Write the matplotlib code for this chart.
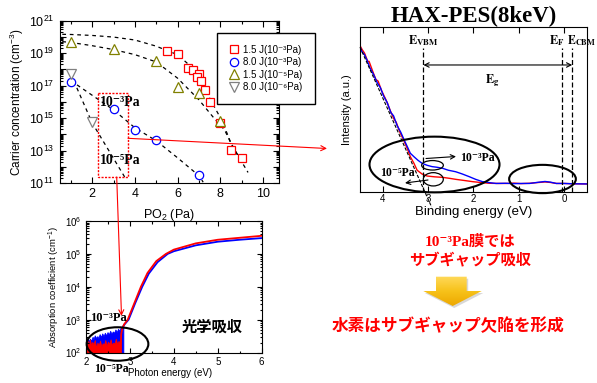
import numpy as np
import matplotlib
matplotlib.use('Agg')
import matplotlib.pyplot as plt
from matplotlib.patches import Ellipse, Rectangle, Polygon
from matplotlib.colors import LinearSegmentedColormap
from matplotlib.ticker import MultipleLocator, LogLocator, NullFormatter, FuncFormatter

plt.rcParams['font.family'] = ['Liberation Sans', 'DejaVu Sans']
plt.rcParams['mathtext.fontset'] = 'custom'
plt.rcParams['mathtext.rm'] = 'Liberation Sans'
plt.rcParams['mathtext.it'] = 'Liberation Sans:italic'
plt.rcParams['mathtext.bf'] = 'Liberation Sans:bold'

# ---------------- data: carrier concentration vs PO2 ----------------
sq_x = [5.5, 6.0, 6.5, 6.7, 7.0, 6.9, 7.1, 7.3, 7.5, 8.0, 8.5, 9.0]
sq_y = [1.3e19, 9e18, 1.2e18, 9.5e17, 5.4e17, 3.2e17, 2e17, 5.5e16, 1e16, 5.2e14, 1.1e13, 3.6e12]
ci_x = [1, 3, 4, 5, 7]
ci_y = [1.7e17, 3.7e15, 1.9e14, 4.5e13, 3.3e11]
tu_x = [1, 3, 5, 6, 7, 8]
tu_y = [5e19, 1.8e19, 3.1e18, 8e16, 3.7e16, 7e14]
td_x = [1, 2]
td_y = [5.4e17, 5.9e14]
legend_labels = ['1.5 J(10⁻³Pa)', '8.0 J(10⁻³Pa)', '1.5 J(10⁻⁵Pa)', '8.0 J(10⁻⁶Pa)']

fitA_x = [0.6, 1, 2, 3, 4, 5, 5.5, 6, 6.7, 7.0, 7.5, 8.1, 8.5, 9.05, 9.3]
fitA_logy = [20.15, 20.14, 20.08, 19.98, 19.8, 19.42, 19.15, 18.9, 18.08, 17.56, 16.23, 14.78, 13.45, 12.2, 11.65]
fitB_x = [0.6, 1, 2, 3, 4, 5, 6, 7, 7.7, 8.2, 8.5, 8.9]
fitB_logy = [19.7, 19.65, 19.45, 19.21, 18.9, 18.45, 17.45, 16.12, 15.0, 14.27, 13.45, 12.5]
fitC_x = [1, 2, 3, 4, 5, 6, 7, 7.2]
fitC_logy = [17.3, 16.4, 15.5, 14.4, 13.6, 12.55, 11.45, 11.05]
fitD_x = [1, 2, 3.6]
fitD_logy = [17.7, 14.7, 11.2]

# ---------------- data: HAX-PES ----------------
pes_red_x = [4.5, 4.45, 4.4, 4.33, 4.3, 4.22, 4.15, 4.1, 4.02, 3.95, 3.9, 3.83, 3.75, 3.7, 3.62, 3.55,
             3.46, 3.39, 3.31, 3.24, 3.13, 3.02, 2.85, 2.68, 2.5, 2.39, 2.2, 2.02, 1.85, 1.65, 1.45,
             1.28, 1.1, 0.95, 0.76, 0.6, 0.42, 0.3, 0.17, 0.0, -0.2, -0.5]
pes_red_y = [0.885, 0.86, 0.84, 0.79, 0.79, 0.73, 0.68, 0.67, 0.61, 0.57, 0.54, 0.49, 0.44, 0.42, 0.36, 0.32,
             0.263, 0.212, 0.172, 0.13, 0.107, 0.095, 0.09, 0.087, 0.08, 0.075, 0.068, 0.061, 0.056, 0.051, 0.05,
             0.05, 0.052, 0.049, 0.051, 0.055, 0.059, 0.056, 0.05, 0.05, 0.048, 0.047]
pes_blue_x = [4.5, 4.46, 4.4, 4.35, 4.28, 4.2, 4.12, 4.05, 3.98, 3.9, 3.82, 3.76, 3.68, 3.6, 3.52,
              3.46, 3.39, 3.31, 3.22, 3.13, 3.02, 2.91, 2.8, 2.68, 2.55, 2.39, 2.25, 2.09, 1.95, 1.8,
              1.65, 1.5, 1.3, 1.1, 0.9, 0.76, 0.6, 0.42, 0.3, 0.17, 0.0, -0.2, -0.5]
pes_blue_y = [0.88, 0.85, 0.83, 0.8, 0.75, 0.71, 0.66, 0.63, 0.58, 0.54, 0.48, 0.46, 0.4, 0.36, 0.31,
              0.275, 0.233, 0.212, 0.19, 0.172, 0.16, 0.152, 0.148, 0.142, 0.13, 0.121, 0.108, 0.091, 0.075, 0.061,
              0.055, 0.05, 0.051, 0.049, 0.05, 0.05, 0.056, 0.062, 0.058, 0.05, 0.05, 0.048, 0.047]
pes_fit_x = [4.5, 2.92]
pes_fit_y = [0.876, -0.093]
E_VBM, E_F, E_CBM = 3.1, 0.04, -0.18

# ---------------- data: absorption ----------------
bn_x = [2.00, 2.02, 2.04, 2.07, 2.09, 2.12, 2.15, 2.17, 2.20, 2.23, 2.26, 2.28, 2.31, 2.34, 2.37, 2.40,
        2.43, 2.46, 2.49, 2.52, 2.55, 2.58, 2.61, 2.64, 2.67, 2.70, 2.73, 2.76, 2.79, 2.82, 2.85]
bn_logy = [2.38, 2.30, 2.45, 2.33, 2.42, 2.36, 2.48, 2.40, 2.52, 2.44, 2.50, 2.42, 2.56, 2.47, 2.58, 2.50,
           2.60, 2.52, 2.62, 2.55, 2.66, 2.57, 2.64, 2.60, 2.70, 2.62, 2.72, 2.66, 2.76, 2.72, 2.82]
rn_x = [2.00, 2.02, 2.04, 2.06, 2.09, 2.12, 2.14, 2.17, 2.20, 2.23, 2.26, 2.29, 2.32, 2.35, 2.38,
        2.41, 2.44, 2.47, 2.50, 2.53, 2.56, 2.59, 2.62, 2.65, 2.68, 2.71, 2.74, 2.77, 2.79]
rn_logy = [2.30, 2.18, 2.35, 2.22, 2.40, 2.20, 2.32, 2.25, 2.38, 2.15, 2.30, 2.22, 2.36, 2.18, 2.28,
           2.24, 2.38, 2.20, 2.33, 2.26, 2.40, 2.22, 2.30, 2.27, 2.42, 2.25, 2.35, 2.30, 2.38]
abs_red_x = [2.79, 2.80, 2.83, 2.87, 2.95, 3.10, 3.25, 3.40, 3.60, 3.82, 4.00, 4.50, 5.00, 5.50, 6.00]
abs_red_logy = [2.00, 2.55, 2.75, 2.86, 3.00, 3.50, 4.00, 4.42, 4.78, 5.00, 5.13, 5.32, 5.43, 5.49, 5.55]
abs_blue_x = [2.85, 2.88, 2.97, 3.12, 3.28, 3.43, 3.63, 3.86, 4.00, 4.50, 5.00, 5.50, 6.00]
abs_blue_logy = [2.80, 2.86, 3.00, 3.50, 4.00, 4.40, 4.75, 5.00, 5.08, 5.26, 5.37, 5.43, 5.48]

W, H = 597, 383
fig = plt.figure(figsize=(W / 100, H / 100), dpi=100)


def rect(l, t, r, b):
    return [l / W, 1 - b / H, (r - l) / W, (b - t) / H]


SERIF = ['Liberation Serif', 'DejaVu Serif']
CJK = ['Noto Sans CJK JP', 'DejaVu Sans']

# ================= Panel 1 =================
ax1 = fig.add_axes(rect(59.5, 20.5, 279, 183))
ax1.set_yscale('log')
ax1.set_xlim(0.47, 10.75)
ax1.set_ylim(1e11, 1e21)
for fx, fy in [(fitA_x, fitA_logy), (fitB_x, fitB_logy), (fitC_x, fitC_logy), (fitD_x, fitD_logy)]:
    ax1.plot(fx, 10 ** np.array(fy), color='k', ls=(0, (3, 3)), lw=0.9)
h1, = ax1.plot(sq_x, sq_y, 's', mfc='white', mec='red', ms=5.5, mew=0.9, ls='none')
h2, = ax1.plot(ci_x, ci_y, 'o', mfc='white', mec='blue', ms=6, mew=0.9, ls='none')
h3, = ax1.plot(tu_x, tu_y, '^', mfc='white', mec='#808000', ms=6.5, mew=0.9, ls='none')
h4, = ax1.plot(td_x, td_y, 'v', mfc='white', mec='#808080', ms=6.5, mew=0.9, ls='none')
ax1.xaxis.set_major_locator(MultipleLocator(2))
ax1.xaxis.set_minor_locator(MultipleLocator(1))
ax1.yaxis.set_major_locator(LogLocator(base=10, numticks=20))
ax1.yaxis.set_major_formatter(FuncFormatter(
    lambda v, p: (r'$10^{%d}$' % int(round(np.log10(v)))) if int(round(np.log10(v))) % 2 == 1 else ''))
ax1.yaxis.set_minor_locator(LogLocator(base=10, subs=np.arange(2, 10), numticks=20))
ax1.yaxis.set_minor_formatter(NullFormatter())
ax1.tick_params(which='both', direction='in', top=True, right=True, labelsize=9, width=0.8)
ax1.tick_params(which='major', length=4)
ax1.tick_params(which='minor', length=2)
ax1.set_xlabel(r'PO$_2$ (Pa)', fontsize=9, labelpad=5)
ax1.set_ylabel(r'Carrier concentration (cm$^{-3}$)', fontsize=8.5, labelpad=2)
leg = ax1.legend([h1, h2, h3, h4], legend_labels, loc='upper left',
                 bbox_to_anchor=(216.7 / W, 1 - 32.5 / H), bbox_transform=fig.transFigure,
                 frameon=True, fancybox=False, edgecolor='k', framealpha=1, fontsize=7,
                 borderpad=1.25, labelspacing=0.25, handletextpad=0.5, handlelength=1.0,
                 borderaxespad=0)
leg.get_frame().set_linewidth(1.0)
leg.set_zorder(20)

# ================= Panel 2 =================
ax2 = fig.add_axes(rect(360, 26.7, 586.7, 191.7))
ax2.set_xlim(4.5, -0.5)
ax2.set_ylim(0, 1)
ax2.plot(pes_red_x, pes_red_y, color='red', lw=1)
ax2.plot(pes_blue_x, pes_blue_y, color='blue', lw=1)
ax2.plot(pes_fit_x, pes_fit_y, color='k', lw=0.8, ls=(0, (3, 1.5)), clip_on=False)
for ev in (E_VBM, E_F, E_CBM):
    ax2.plot([ev, ev], [0, 0.87], color='k', lw=0.9, ls=(0, (4, 2)))
ax2.annotate('', xy=(E_CBM, 0.768), xytext=(E_VBM, 0.768),
             arrowprops=dict(arrowstyle='<->', color='k', lw=0.8, shrinkA=0, shrinkB=0,
                             mutation_scale=8))
ax2.text(E_VBM, 0.872, r'$\mathbf{E_{VBM}}$', math_fontfamily='stix', fontsize=9,
         ha='center', va='bottom')
ax2.text(0.15, 0.872, r'$\mathbf{E_{F}}$', math_fontfamily='stix', fontsize=9,
         ha='center', va='bottom')
ax2.text(-0.38, 0.872, r'$\mathbf{E_{CBM}}$', math_fontfamily='stix', fontsize=8.5,
         ha='center', va='bottom', clip_on=False)
ax2.text(1.59, 0.675, r'$\mathbf{E_{g}}$', math_fontfamily='stix', fontsize=9,
         ha='center', va='center')
ax2.set_xticks([4, 3, 2, 1, 0])
ax2.set_yticks([])
ax2.tick_params(which='both', direction='in', top=True, labelsize=7, width=0.8, length=4, pad=2)
ax2.set_xlabel('Binding energy (eV)', fontsize=9.5, labelpad=1)
ax2.set_ylabel('Intensity (a.u.)', fontsize=8, labelpad=6)
ax2.set_title('HAX-PES(8keV)', fontsize=16.5, fontweight='bold', family=SERIF, pad=3)

# ================= Panel 3 =================
ax3 = fig.add_axes(rect(86, 221, 261.7, 352.5))
ax3.set_yscale('log')
ax3.set_xlim(2, 6)
ax3.set_ylim(1e2, 1e6)
ax3.fill_between(bn_x, 1e2, 10 ** np.array(bn_logy), color='blue', lw=0.6)
ax3.fill_between(rn_x, 1e2, 10 ** np.array(rn_logy), color='red', lw=0.6)
ax3.plot(abs_blue_x, 10 ** np.array(abs_blue_logy), color='blue', lw=1.3)
ax3.plot(abs_red_x, 10 ** np.array(abs_red_logy), color='red', lw=1.3)
ax3.xaxis.set_major_locator(MultipleLocator(1))
ax3.xaxis.set_minor_locator(MultipleLocator(0.5))
ax3.yaxis.set_major_locator(LogLocator(base=10, numticks=10))
ax3.yaxis.set_minor_locator(LogLocator(base=10, subs=np.arange(2, 10), numticks=10))
ax3.yaxis.set_minor_formatter(NullFormatter())
ax3.tick_params(which='both', direction='in', top=True, right=True, labelsize=7, width=0.8)
ax3.tick_params(which='major', length=3.5)
ax3.tick_params(which='minor', length=1.8)
ax3.set_xlabel('Photon energy (eV)', fontsize=7, labelpad=1)
ax3.xaxis.set_label_coords(0.48, -0.115)
ax3.set_ylabel(r'Absorption coefficient (cm$^{-1}$)', fontsize=6.8, labelpad=2)

# ================= Overlay (figure-pixel annotations) =================
ov = fig.add_axes([0, 0, 1, 1], zorder=10)
ov.set_xlim(0, W)
ov.set_ylim(H, 0)
ov.axis('off')
ov.patch.set_alpha(0)

ov.add_patch(Rectangle((98.3, 93), 29.7, 83.7, fill=False, ec='red', lw=1, ls=(0, (1.5, 1))))
ov.text(100, 103, '10⁻³Pa', family=SERIF, fontweight='bold', fontsize=10, ha='left', va='center')
ov.text(100, 161, '10⁻⁵Pa', family=SERIF, fontweight='bold', fontsize=10, ha='left', va='center')
ov.annotate('', xy=(327, 148.5), xytext=(128, 138.3),
            arrowprops=dict(arrowstyle='->', color='red', lw=0.8, shrinkA=0, shrinkB=0, mutation_scale=9))
ov.annotate('', xy=(121.5, 316), xytext=(116.7, 177),
            arrowprops=dict(arrowstyle='->', color='red', lw=0.8, shrinkA=0, shrinkB=0, mutation_scale=9))

# panel 2 annotations
ov.add_patch(Ellipse((434.5, 164.5), 130, 55.7, fill=False, ec='k', lw=1.5))
ov.add_patch(Ellipse((542.5, 179), 66.7, 28.3, fill=False, ec='k', lw=1.5))
ov.add_patch(Ellipse((432.5, 165.3), 21.7, 9.5, fill=False, ec='k', lw=0.9))
ov.add_patch(Ellipse((433.3, 179.3), 20, 13.3, fill=False, ec='k', lw=0.9))
ov.annotate('', xy=(456, 156.5), xytext=(426, 158.5),
            arrowprops=dict(arrowstyle='->', color='k', lw=0.8, shrinkA=0, shrinkB=0, mutation_scale=8))
ov.annotate('', xy=(405, 183), xytext=(428, 180),
            arrowprops=dict(arrowstyle='->', color='k', lw=0.8, shrinkA=0, shrinkB=0, mutation_scale=8))
ov.text(460, 158.3, '10⁻³Pa', family=SERIF, fontweight='bold', fontsize=8.5, ha='left', va='center')
ov.text(380, 173.3, '10⁻⁵Pa', family=SERIF, fontweight='bold', fontsize=8.5, ha='left', va='center')

# panel 3 annotations
ov.add_patch(Ellipse((117.5, 344), 61.7, 33.5, fill=False, ec='k', lw=1.5))
ov.text(90, 318.3, '10⁻³Pa', family=SERIF, fontweight='bold', fontsize=9, ha='left', va='center')
ov.text(94, 369.3, '10⁻⁵Pa', family=SERIF, fontweight='bold', fontsize=8.5, ha='left', va='center')
ov.text(212.5, 326.7, '光学吸収', family=CJK, fontweight='bold', fontsize=11, ha='center', va='center')

# right-bottom statements
ov.text(470, 241.7, '10⁻³Pa膜では', family=['Liberation Serif', 'DejaVu Serif', 'Noto Sans CJK JP'],
        fontweight='bold', fontsize=11, color='red', ha='center', va='center')
ov.text(470, 259.3, 'サブギャップ吸収', family=CJK, fontweight='bold', fontsize=11,
        color='red', ha='center', va='center')
ov.text(448, 326, '水素はサブギャップ欠陥を形成', family=CJK, fontweight='bold', fontsize=12,
        color='red', ha='center', va='center')

arrow_pts = [(436, 276.7), (466.7, 276.7), (466.7, 291), (481.7, 291), (452.7, 306),
             (423.3, 291), (436, 291)]
shadow = Polygon([(x + 1.5, y + 2) for x, y in arrow_pts], closed=True, fc='#d8d8d8', ec='none')
ov.add_patch(shadow)
poly = Polygon(arrow_pts, closed=True, fc='none', ec='none')
ov.add_patch(poly)
cmap = LinearSegmentedColormap.from_list('gold', ['#FFD95A', '#F7C21A', '#EDA800'])
grad = np.linspace(0, 1, 64).reshape(-1, 1)
im = ov.imshow(grad, extent=(423, 482, 306.5, 276.5), origin='upper', aspect='auto', cmap=cmap,
               interpolation='bilinear', zorder=3)
im.set_clip_path(poly)
ov.set_xlim(0, W)
ov.set_ylim(H, 0)

fig.savefig('out.png', dpi=100)
